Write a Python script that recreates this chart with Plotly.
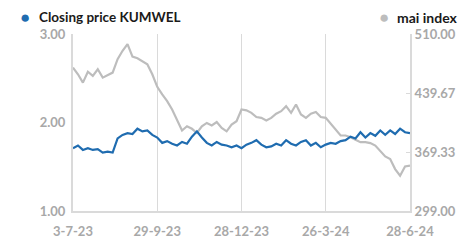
import plotly.graph_objects as go

tick_labels = ["3-7-23", "29-9-23", "28-12-23", "26-3-24", "28-6-24"]
tick_pos = [0, 17, 34, 51, 68]

kumwel = [1.71, 1.74, 1.69, 1.71, 1.69, 1.70, 1.66, 1.67, 1.66, 1.82,
          1.86, 1.88, 1.87, 1.93, 1.90, 1.91, 1.86, 1.83, 1.77, 1.79,
          1.76, 1.74, 1.78, 1.76, 1.84, 1.90, 1.83, 1.77, 1.74, 1.78,
          1.75, 1.74, 1.72, 1.74, 1.71, 1.75, 1.77, 1.80, 1.75, 1.72,
          1.73, 1.76, 1.74, 1.80, 1.76, 1.74, 1.78, 1.80, 1.74, 1.77,
          1.72, 1.75, 1.77, 1.76, 1.79, 1.80, 1.84, 1.82, 1.89, 1.83,
          1.88, 1.85, 1.91, 1.86, 1.91, 1.87, 1.93, 1.89, 1.88]

mai = [470, 462, 452, 465, 460, 468, 458, 461, 464, 480,
       490, 498, 483, 481, 477, 474, 462, 447, 438, 430,
       420, 408, 395, 400, 397, 392, 400, 404, 401, 405,
       398, 394, 402, 406, 420, 419, 416, 411, 410, 407,
       410, 415, 418, 424, 416, 426, 414, 410, 415, 417,
       411, 410, 403, 396, 389, 389, 387, 384, 381, 381,
       380, 377, 370, 364, 361, 349, 341, 352, 353]

left_ticks = [1, 2, 3]
left_text = ["1.00", "2.00", "3.00"]
right_ticks = [299, 369.33, 439.67, 510]
right_text = ["299.00", "369.33", "439.67", "510.00"]

BLUE = "#1f6cb0"
GRAY = "#bdbdbd"
AXIS = "#dadada"
TICKFONT = dict(family="Lato", size=13, color="#a8a8a8", weight="bold")

x = list(range(len(kumwel)))

fig = go.Figure()
fig.add_trace(go.Scatter(x=x, y=mai, mode="lines", yaxis="y",
                         line=dict(color=GRAY, width=2.2), name="mai index"))
fig.add_trace(go.Scatter(x=x, y=kumwel, mode="lines", yaxis="y2",
                         line=dict(color=BLUE, width=2.2), name="Closing price KUMWEL"))

fig.update_layout(
    width=473, height=240,
    margin=dict(l=73, r=63, t=34, b=29),
    paper_bgcolor="white", plot_bgcolor="white",
    showlegend=False,
    xaxis=dict(range=[0, 68], tickvals=tick_pos, ticktext=tick_labels,
               showgrid=True, gridcolor=AXIS, gridwidth=1,
               showline=True, linecolor=AXIS, linewidth=2,
               ticks="", tickfont=TICKFONT, zeroline=False,
               ticklabelstandoff=7, automargin=False),
    yaxis=dict(range=[299, 510], side="right", tickvals=right_ticks, ticktext=right_text,
               showgrid=False, showline=True, linecolor=AXIS, linewidth=2,
               ticks="inside", ticklen=4, tickcolor=AXIS, tickwidth=1,
               tickfont=TICKFONT, zeroline=False, automargin=False),
    yaxis2=dict(range=[1, 3], side="left", overlaying="y", tickvals=left_ticks,
                ticktext=left_text, showgrid=False, showline=True,
                linecolor=AXIS, linewidth=2, ticks="", tickfont=TICKFONT,
                zeroline=False, ticklabelstandoff=3, automargin=False),
)

fig.add_annotation(xref="paper", yref="paper", x=-0.142, y=1.0, yshift=18,
                   xanchor="center", yanchor="middle", showarrow=False,
                   text="●", font=dict(size=17, color=BLUE))
fig.add_annotation(xref="paper", yref="paper", x=-0.108, y=1.0, yshift=17,
                   xanchor="left", yanchor="middle", showarrow=False,
                   text="Closing price KUMWEL",
                   font=dict(family="Lato", size=13.5, color="#1a1a1a", weight="bold"))
fig.add_annotation(xref="paper", yref="paper", x=0.923, y=1.0, yshift=18,
                   xanchor="center", yanchor="middle", showarrow=False,
                   text="●", font=dict(size=17, color=GRAY))
fig.add_annotation(xref="paper", yref="paper", x=0.955, y=1.0, yshift=17,
                   xanchor="left", yanchor="middle", showarrow=False,
                   text="mai index",
                   font=dict(family="Lato", size=14, color="#1a1a1a", weight="bold"))

fig.write_html("out.html", config={"displayModeBar": False},
               post_script="document.body.style.margin='0';document.body.style.padding='0';")
